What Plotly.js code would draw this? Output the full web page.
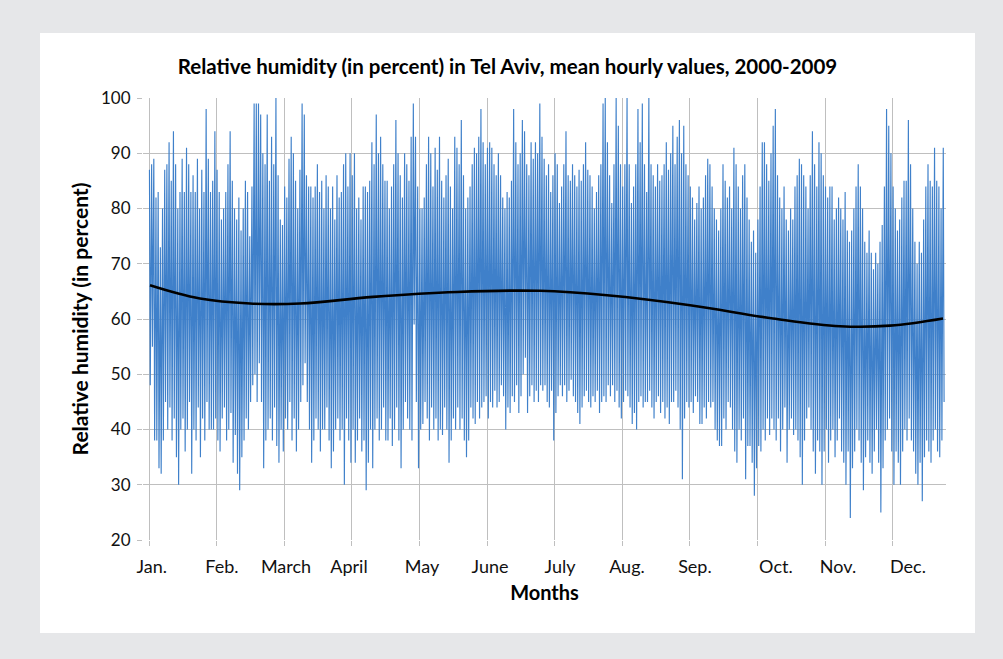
<!DOCTYPE html>
<html>
<head>
<meta charset="utf-8">
<script src="https://cdn.plot.ly/plotly-3.0.1.min.js"></script>
<style>
  html, body { margin: 0; padding: 0; background: #e6e7e9; }
  body { width: 1003px; height: 659px; position: relative; overflow: hidden; }
  #panel { position: absolute; left: 40px; top: 33px; width: 935px; height: 600px; background: #ffffff; }
</style>
</head>
<body>
<div id="panel"></div>
<script>
// Daily maximum (night) and minimum (midday) hourly-mean values, Jan 1 .. Dec 31
const dailyHigh = [
  87,88,89,82,83,73,80,87,88,92, 85,94,88,80,83,89,83,91,88,83,
  86,83,89,80,87,83,98,89,83,85, 94,87,83,78,80,83,88,94,85,80,
  78,82,76,80,85,83,75,84,99,99, 99,97,90,88,97,85,93,88,100,86,
  78,77,84,82,89,93,90,85,80,87, 99,97,86,84,84,82,84,88,83,85,
  80,86,84,80,84,78,86,82,83,88, 90,84,90,86,90,80,82,78,84,84,
  83,85,92,88,97,90,93,88,85,85, 80,84,88,96,90,86,82,90,88,85,
  93,99,93,84,80,80,82,88,93,90, 84,91,87,93,85,82,86,89,84,80,
  93,91,88,96,86,80,82,84,88,91, 90,93,98,92,88,91,92,91,88,86,
  90,86,82,80,83,82,85,98,92,88, 90,96,94,88,86,92,89,92,90,99,
  93,89,86,88,83,86,90,88,81,84, 88,94,86,85,88,86,84,87,85,88,
  92,87,86,84,80,83,86,88,99,100, 92,86,81,88,100,95,88,84,88,100,
  88,81,84,88,98,92,99,88,83,100, 88,86,84,88,85,86,88,92,87,90,
  95,88,93,96,90,95,88,86,84,82, 78,81,84,80,82,86,89,88,84,80,
  78,76,80,88,85,82,84,80,91,88, 84,80,86,88,82,78,74,76,72,78,
  84,92,92,88,85,90,95,98,86,82, 80,84,78,76,80,78,84,86,89,88,
  86,84,80,86,94,88,84,92,90,86, 84,82,84,84,78,80,82,80,78,83,
  76,74,76,80,84,88,84,80,74,72, 76,72,69,72,70,74,77,84,98,95,
  90,84,80,76,78,82,85,85,96,88, 80,74,70,74,72,78,84,88,85,84,
  91,85,84,80,91
];
const dailyLow = [
  48,55,38,38,33,32,38,45,40,44, 38,42,35,30,40,42,36,40,45,32,
  40,38,44,35,42,38,45,40,40,40, 42,38,36,42,44,38,40,43,34,39,
  32,29,35,38,42,40,45,48,50,45, 52,45,33,38,40,42,38,44,37,34,
  40,36,42,40,45,38,42,36,40,45, 48,52,45,40,34,38,42,40,36,40,
  40,44,38,33,36,40,42,38,40,30, 42,38,34,40,34,38,42,36,38,29,
  34,40,33,40,42,38,40,44,38,38, 42,37,40,44,38,33,40,45,42,40,
  38,59,45,33,40,41,45,42,38,44, 40,42,38,40,39,44,40,34,38,42,
  40,44,40,42,38,35,38,44,42,41, 45,42,44,45,46,42,45,44,47,44,
  45,48,46,40,44,43,46,45,48,43, 46,50,53,43,46,48,45,47,45,48,
  47,48,45,44,47,38,43,46,48,46, 48,45,47,49,46,45,43,41,44,46,
  47,45,44,46,45,47,43,45,46,45, 48,46,48,45,47,44,42,45,47,46,
  44,41,43,40,45,46,44,45,45,47, 44,42,45,46,43,45,42,44,41,45,
  45,47,44,40,31,42,45,44,45,43, 46,45,41,41,44,42,45,44,45,40,
  38,37,37,42,40,45,44,40,36,34, 40,38,42,31,37,37,34,28,33,37,
  36,40,38,42,39,42,40,38,42,36, 40,44,34,40,42,39,40,38,35,30,
  38,42,44,40,36,32,38,36,30,36, 40,34,38,40,35,38,42,36,34,30,
  36,24,33,36,40,38,34,29,35,38, 34,32,36,40,34,25,33,38,40,42,
  36,30,36,34,30,36,40,38,42,38, 36,32,30,34,27,35,38,36,34,38,
  40,36,35,38,45
];
// Smooth trend (black line), read at these hours of the year
const trendHour  = [11, 561, 1111, 1662, 2465, 3390, 4303, 5040, 5954, 6867, 7605, 8155, 8738];
const trendValue = [66.1, 63.7, 62.8, 62.8, 64.0, 64.9, 65.1, 64.3, 62.5, 60.1, 58.7, 58.8, 60.1];
// Category gridlines every 744 hours
const gridHours = [0, 744, 1488, 2232, 2976, 3720, 4464, 5208, 5952, 6696, 7440, 8184];
const monthLabels = ["Jan.", "Feb.", "March", "April", "May", "June", "July", "Aug.", "Sep.", "Oct.", "Nov.", "Dec."];
const labelHours = [30, 803, 1508, 2201, 3004, 3753, 4523, 5260, 6008, 6899, 7582, 8352];

// Build the hourly line: a night maximum and a midday minimum each day
const hx = [], hy = [];
for (let d = 0; d < dailyHigh.length; d++) {
  hx.push(d * 24 + 5);  hy.push(dailyHigh[d]);
  hx.push(d * 24 + 14); hy.push(dailyLow[d]);
}

const FONT = "Lato, 'Open Sans', sans-serif";
const traces = [
  { x: hx, y: hy, type: 'scatter', mode: 'lines', line: { color: '#3f80ca', width: 1.15 },
    hoverinfo: 'skip', showlegend: false },
  { x: trendHour, y: trendValue, type: 'scatter', mode: 'lines',
    line: { color: '#000000', width: 2.6, shape: 'spline', smoothing: 1.1 }, hoverinfo: 'skip', showlegend: false },
  { x: [labelHours[0]], y: [null], xaxis: 'x2', type: 'scatter', mode: 'markers', showlegend: false, hoverinfo: 'skip' }
];

const layout = {
  width: 935, height: 600,
  margin: { l: 103, r: 29, t: 65, b: 93 },
  paper_bgcolor: '#ffffff', plot_bgcolor: '#ffffff',
  font: { family: FONT, color: '#000000' },
  title: { text: '<b>Relative humidity (in percent) in Tel Aviv, mean hourly values, 2000-2009</b>',
    font: { family: FONT, size: 20.5, color: '#000000' }, x: 0.5, xanchor: 'center', y: 1 - 34/600, yanchor: 'middle', yref: 'container' },
  xaxis: {
    range: [-66, 8771], tickmode: 'array', tickvals: gridHours, showticklabels: false,
    showgrid: true, gridcolor: '#bfbfbf', gridwidth: 1, zeroline: false, showline: false,
    ticks: 'outside', ticklen: 5, tickcolor: '#bfbfbf',
    title: { text: '<b>Months</b>', font: { family: FONT, size: 20, color: '#000' }, standoff: 40 }
  },
  xaxis2: {
    overlaying: 'x', anchor: 'y', side: 'bottom', range: [-66, 8771],
    tickmode: 'array', tickvals: labelHours, ticktext: monthLabels,
    showgrid: false, zeroline: false, showline: false, ticks: '', ticklabelstandoff: 14,
    tickfont: { family: FONT, size: 18, color: '#111' }
  },
  yaxis: {
    range: [20, 100], dtick: 10, tick0: 20,
    showgrid: true, gridcolor: '#bfbfbf', gridwidth: 1, zeroline: false, showline: false,
    ticks: 'outside', ticklen: 5, tickcolor: '#bfbfbf', ticklabelstandoff: 3,
    tickfont: { family: FONT, size: 17, color: '#111' },
    title: { text: '<b>Relative humidity (in percent)</b>', font: { family: FONT, size: 21, color: '#000' }, standoff: 6 }
  }
};

Plotly.newPlot('panel', traces, layout, { displayModeBar: false, staticPlot: true });
</script>
</body>
</html>
